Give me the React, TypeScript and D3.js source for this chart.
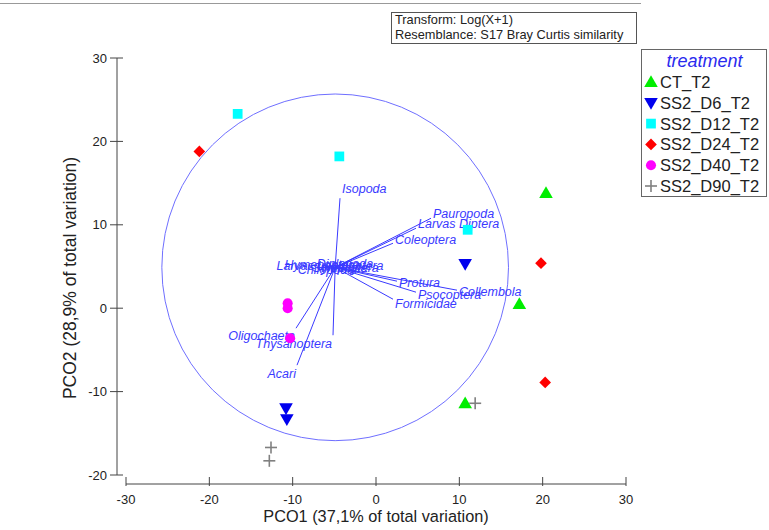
import React from "react";
import * as d3 from "d3";

// ---- Data ----
const groups = ["CT_T2", "SS2_D6_T2", "SS2_D12_T2", "SS2_D24_T2", "SS2_D40_T2", "SS2_D90_T2"];
const ctT2: [number, number][] = [[20.4, 13.8], [17.2, 0.5], [10.7, -11.4]];
const d6T2: [number, number][] = [[10.7, 5.3], [-10.8, -12.0], [-10.7, -13.3]];
const d12T2: [number, number][] = [[-16.6, 23.3], [-4.4, 18.2], [11.0, 9.4]];
const d24T2: [number, number][] = [[-21.2, 18.8], [19.8, 5.4], [20.3, -8.9]];
const d40T2: [number, number][] = [[-10.6, 0.6], [-10.6, 0.0], [-10.3, -3.6]];
const d90T2: [number, number][] = [[11.9, -11.4], [-12.6, -16.7], [-12.8, -18.3]];
const seriesPoints = [ctT2, d6T2, d12T2, d24T2, d40T2, d90T2];

const vectorOrigin: [number, number] = [-4.9, 4.9];
const circleRadius = 20.8;
const vectorNames = [
  "Isopoda", "Pauropoda", "Larvas Diptera", "Coleoptera", "Protura", "Collembola",
  "Psocoptera", "Formicidae", "Oligochaeta", "Thysanoptera", "Acari",
  "Larvas Lepidoptera", "Hymenoptera", "Symphyla", "Diplopoda", "Hemiptera", "Chilopoda",
];
const vectorEnds: [number, number][] = [
  [-4.32, 13.19], [6.6, 10.79], [4.8, 9.59], [2.04, 7.79], [2.52, 3.24], [9.72, 2.16],
  [4.8, 1.92], [2.04, 1.08], [-9.6, -2.4], [-5.16, -3.24], [-9.48, -6.83],
  [-5.52, 5.04], [-6.48, 5.16], [-4.32, 4.8], [-3.72, 5.28], [-3.12, 4.8], [-6.0, 4.56],
];

const xTicks = [-30, -20, -10, 0, 10, 20, 30];
const yTicks = [-20, -10, 0, 10, 20, 30];
const xTitle = "PCO1 (37,1% of total variation)";
const yTitle = "PCO2 (28,9% of total variation)";
const infoLines = ["Transform: Log(X+1)", "Resemblance: S17 Bray Curtis similarity"];
const legendTitle = "treatment";

// ---- Styles ----
const W = 769, H = 530;
const FONT = "'Liberation Sans', Arial, sans-serif";
const colors = ["#00ee00", "#0000ee", "#00ffff", "#ff0000", "#ff00ff", "#808080"];
const vecColor = "#3a3aff";
const axisColor = "#444";

function Marker({ g, x, y, s = 1 }: { g: number; x: number; y: number; s?: number }) {
  const c = colors[g];
  if (g === 5) {
    const h = 6 * s;
    return (
      <g stroke={c} strokeWidth={1.6}>
        <line x1={x - h} x2={x + h} y1={y} y2={y} />
        <line x1={x} x2={x} y1={y - h} y2={y + h} />
      </g>
    );
  }
  const types = [d3.symbolTriangle, d3.symbolTriangle, d3.symbolSquare, d3.symbolSquare, d3.symbolCircle];
  const sizes = [80, 80, 95, 68, 80];
  const path = d3.symbol().type(types[g]).size(sizes[g] * s * s)()!;
  const rot = g === 1 ? 180 : g === 3 ? 45 : 0;
  const dy = g === 0 ? 1 : g === 1 ? -1 : 0;
  return <path d={path} fill={c} transform={`translate(${x},${y + dy}) rotate(${rot})`} />;
}

export default function App() {
  const x = d3.scaleLinear().domain([-30, 30]).range([126, 626]);
  const y = d3.scaleLinear().domain([-20, 30]).range([475, 58]);
  const axisX = 117;
  const axisY = 484;

  const ox = x(vectorOrigin[0]);
  const oy = y(vectorOrigin[1]);
  const rPx = x(circleRadius) - x(0);

  const legendX = 641, legendY = 49, legendW = 125, legendH = 147;

  return (
    <svg width={W} height={H} style={{ position: "absolute", left: 0, top: 0 }} fontFamily={FONT}>
      <rect width={W} height={H} fill="#fff" />
      {/* top frame line */}
      <line x1={0} x2={641} y1={3.5} y2={3.5} stroke="#999" strokeWidth={1} />

      {/* info box */}
      <rect x={391.5} y={12.5} width={245} height={31} fill="#fff" stroke="#555" strokeWidth={1} />
      {infoLines.map((t, i) => (
        <text key={t} x={395} y={24 + i * 15} fontSize={12.8} fill="#222">{t}</text>
      ))}

      {/* axes */}
      <g stroke={axisColor} strokeWidth={1} fill="none">
        <line x1={axisX} x2={axisX} y1={y(30)} y2={y(-20)} />
        {yTicks.map((t) => (
          <line key={t} x1={axisX - 7} x2={axisX + 6} y1={y(t)} y2={y(t)} />
        ))}
        <line x1={x(-30)} x2={x(30)} y1={axisY} y2={axisY} />
        {xTicks.map((t) => (
          <line key={t} x1={x(t)} x2={x(t)} y1={axisY - 7} y2={axisY + 2} />
        ))}
      </g>
      {yTicks.map((t) => (
        <text key={t} x={axisX - 10} y={y(t) + 4.5} fontSize={13} textAnchor="end" fill="#222">{t}</text>
      ))}
      {xTicks.map((t) => (
        <text key={t} x={x(t)} y={504} fontSize={13} textAnchor="middle" fill="#222">{t}</text>
      ))}
      <text x={x(0)} y={522} fontSize={16.3} textAnchor="middle" fill="#222">{xTitle}</text>
      <text transform={`translate(76,278) rotate(-90)`} fontSize={17.5} textAnchor="middle" fill="#222">{yTitle}</text>

      {/* correlation circle */}
      <circle cx={ox} cy={oy} r={rPx} fill="none" stroke="#6f6fff" strokeWidth={1} />

      {/* vectors */}
      <g>
        {vectorEnds.map((e, i) => {
          const ex = x(e[0]);
          const ey = y(e[1]);
          return <line key={"l" + i} x1={ox} y1={oy} x2={ex} y2={ey} stroke={vecColor} strokeWidth={1} />;
        })}
        {vectorEnds.map((e, i) => {
          const ex = x(e[0]);
          const ey = y(e[1]);
          const dx = ex - ox, dy = ey - oy;
          const len = Math.hypot(dx, dy) || 1;
          const uy = dy / len;
          let anchor: "start" | "end" | "middle" = dx >= 0 ? "start" : "end";
          let tx = ex + (dx >= 0 ? 2 : -1);
          let ty = ey + 4 + uy * 9;
          if (len < 25) {
            anchor = "middle";
            tx = ex;
            ty = ey + 4;
          }
          return (
            <text key={"t" + i} x={tx} y={ty} fontSize={12.5} fontStyle="italic" textAnchor={anchor} fill={vecColor}>
              {vectorNames[i]}
            </text>
          );
        })}
      </g>

      {/* points */}
      {seriesPoints.map((pts, g) =>
        pts.map((p, j) => <Marker key={g + "-" + j} g={g} x={x(p[0])} y={y(p[1])} />)
      )}

      {/* legend */}
      <rect x={legendX + 0.5} y={legendY + 0.5} width={legendW} height={legendH} fill="#fff" stroke="#666" strokeWidth={1} />
      <text x={legendX + legendW / 2 + 1} y={67} fontSize={18} fontStyle="italic" textAnchor="middle" fill="#2a2aee">{legendTitle}</text>
      {groups.map((gname, g) => {
        const cy = 82 + g * 20.8;
        return (
          <g key={gname}>
            <Marker g={g} x={651} y={cy} />
            <text x={660} y={cy + 6} fontSize={16.5} fill="#222">{gname}</text>
          </g>
        );
      })}
    </svg>
  );
}
